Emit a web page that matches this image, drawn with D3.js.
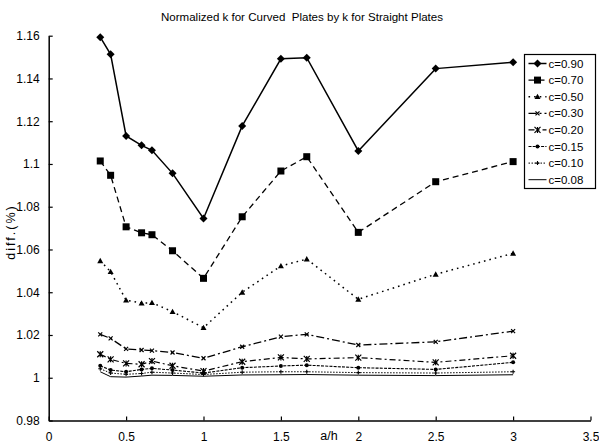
<!DOCTYPE html>
<html>
<head>
<meta charset="utf-8">
<script src="https://cdn.jsdelivr.net/npm/d3@7"></script>
<style>
  html, body { margin: 0; padding: 0; background: #fff; }
  svg { display: block; }
  text { font-family: "Liberation Sans Narrow", "Liberation Sans", Arial, sans-serif; fill: #000; }
</style>
</head>
<body>
<svg id="chart" width="599" height="445"></svg>
<script>
// a/h ratios at which every series was computed
const aH = [0.333, 0.4, 0.5, 0.6, 0.667, 0.8, 1, 1.25, 1.5, 1.667, 2, 2.5, 3];

// k(curved) / k(straight) for each curvature c
const c090 = [1.1593, 1.1513, 1.1131, 1.1087, 1.1064, 1.0956, 1.0745, 1.1178, 1.1492, 1.1497, 1.1061, 1.1446, 1.1476];
const c070 = [1.1014, 1.0947, 1.0706, 1.0678, 1.0669, 1.0594, 1.0465, 1.0753, 1.0967, 1.1034, 1.0680, 1.0917, 1.1011];
const c050 = [1.0547, 1.0496, 1.0363, 1.0349, 1.0351, 1.0309, 1.0234, 1.0400, 1.0523, 1.0555, 1.0367, 1.0484, 1.0582];
const c030 = [1.0203, 1.0184, 1.0135, 1.0130, 1.0127, 1.0118, 1.0091, 1.0145, 1.0192, 1.0203, 1.0153, 1.0168, 1.0218];
const c020 = [1.0110, 1.0086, 1.0067, 1.0063, 1.0078, 1.0056, 1.0031, 1.0075, 1.0095, 1.0088, 1.0094, 1.0072, 1.0103];
const c015 = [1.0056, 1.0036, 1.0028, 1.0039, 1.0044, 1.0036, 1.0022, 1.0047, 1.0055, 1.0059, 1.0047, 1.0039, 1.0072];
const c010 = [1.0042, 1.0022, 1.0016, 1.0020, 1.0026, 1.0022, 1.0015, 1.0026, 1.0028, 1.0028, 1.0024, 1.0022, 1.0028];
const c008 = [1.0028, 1.0005, 1.0003, 1.0008, 1.0012, 1.0011, 1.0007, 1.0013, 1.0014, 1.0015, 1.0012, 1.0010, 1.0014];

const seriesNames = ["c=0.90", "c=0.70", "c=0.50", "c=0.30", "c=0.20", "c=0.15", "c=0.10", "c=0.08"];
const seriesValues = [c090, c070, c050, c030, c020, c015, c010, c008];

const xTickValues = [0, 0.5, 1, 1.5, 2, 2.5, 3, 3.5];
const xTickLabels = ["0", "0.5", "1", "1.5", "2", "2.5", "3", "3.5"];
const yTickValues = [0.98, 1.0, 1.02, 1.04, 1.06, 1.08, 1.1, 1.12, 1.14, 1.16];
const yTickLabels = ["0.98", "1", "1.02", "1.04", "1.06", "1.08", "1.1", "1.12", "1.14", "1.16"];

const titleText = "Normalized k for Curved  Plates by k for Straight Plates";
const xTitle = "a/h";
const yTitle = "diff.(%)";

// line and marker styling per series
const styles = [
  { dash: null,        width: 1.5, marker: "diamond",  size: 8 },
  { dash: "6,4",       width: 1.3, marker: "square",   size: 7 },
  { dash: "1.6,4",     width: 1.5, marker: "triangle", size: 6 },
  { dash: "8,3,2,3",   width: 1.3, marker: "cross",    size: 4 },
  { dash: "6,3,2,3",   width: 1.2, marker: "asterisk", size: 6 },
  { dash: "3,1.2",     width: 1.1, marker: "circle",   size: 4 },
  { dash: "1.5,1.5",   width: 1.0, marker: "plus",     size: 4 },
  { dash: null,        width: 1.0, marker: "none",     size: 0 }
];

const svg = d3.select("#chart");
const plotLeft = 48.7, plotRight = 590.5, plotTop = 35.7, plotBottom = 420.5;

const x = d3.scaleLinear().domain([0, 3.5]).range([plotLeft, plotRight]);
const y = d3.scaleLinear().domain([0.98, 1.16]).range([plotBottom, plotTop]);

// title (keeps its double space)
svg.append("text")
  .attr("x", 302).attr("y", 21)
  .attr("text-anchor", "middle")
  .attr("font-size", 11.5)
  .style("white-space", "pre")
  .attr("textLength", 282).attr("lengthAdjust", "spacingAndGlyphs")
  .text(titleText);

// axes with inward ticks
const xAxis = d3.axisBottom(x)
  .tickValues(xTickValues)
  .tickFormat((d, i) => xTickLabels[i])
  .tickSizeInner(-4).tickSizeOuter(0).tickPadding(10);
const yAxis = d3.axisLeft(y)
  .tickValues(yTickValues)
  .tickFormat((d, i) => yTickLabels[i])
  .tickSizeInner(-4).tickSizeOuter(0).tickPadding(9);

const gx = svg.append("g").attr("transform", `translate(0,${plotBottom})`).call(xAxis);
const gy = svg.append("g").attr("transform", `translate(${plotLeft},0)`).call(yAxis);
[gx, gy].forEach(g => {
  g.select(".domain").attr("stroke", "#000").attr("stroke-width", 1.5);
  g.selectAll(".tick line").attr("stroke", "#000").attr("stroke-width", 1.2);
  g.selectAll(".tick text").attr("font-size", 12)
    .attr("font-family", "'Liberation Sans Narrow', 'Liberation Sans', Arial, sans-serif")
    .attr("fill", "#000");
});
gx.selectAll(".tick text").attr("dy", "0.9em");

// axis titles
svg.append("text")
  .attr("x", 329).attr("y", 440)
  .attr("text-anchor", "middle")
  .attr("font-size", 12.5)
  .text(xTitle);
svg.append("text")
  .attr("transform", "translate(15,232) rotate(-90)")
  .attr("text-anchor", "middle")
  .attr("font-size", 12.5)
  .attr("letter-spacing", 2)
  .text(yTitle);

// marker drawing
function drawMarker(g, type, size) {
  const s = size / 2;
  switch (type) {
    case "diamond":
      g.append("path").attr("d", `M0,${-s}L${s},0L0,${s}L${-s},0Z`).attr("fill", "#000");
      break;
    case "square":
      g.append("rect").attr("x", -s).attr("y", -s).attr("width", size).attr("height", size).attr("fill", "#000");
      break;
    case "triangle":
      g.append("path").attr("d", `M0,${-s}L${s},${s * 0.8}L${-s},${s * 0.8}Z`).attr("fill", "#000");
      break;
    case "cross":
      g.append("path").attr("d", `M${-s},${-s}L${s},${s}M${-s},${s}L${s},${-s}`).attr("stroke", "#000").attr("stroke-width", 1.2);
      break;
    case "asterisk":
      g.append("path").attr("d", `M${-s},${-s}L${s},${s}M${-s},${s}L${s},${-s}M0,${-s}L0,${s}`).attr("stroke", "#000").attr("stroke-width", 1.2);
      break;
    case "circle":
      g.append("circle").attr("r", s).attr("fill", "#000");
      break;
    case "plus":
      g.append("path").attr("d", `M${-s},0L${s},0M0,${-s}L0,${s}`).attr("stroke", "#000").attr("stroke-width", 1.1);
      break;
  }
}

const line = d3.line().x(d => x(d[0])).y(d => y(d[1]));

// draw from the bottom series upward so the heavier lines sit on top
for (let k = seriesValues.length - 1; k >= 0; k--) {
  const st = styles[k];
  const pts = aH.map((a, i) => [a, seriesValues[k][i]]);
  const g = svg.append("g").attr("class", "series");
  g.append("path")
    .datum(pts)
    .attr("d", line)
    .attr("fill", "none")
    .attr("stroke", "#000")
    .attr("stroke-width", st.width)
    .attr("stroke-dasharray", st.dash);
  g.selectAll("g.m").data(pts).join("g")
    .attr("class", "m")
    .attr("transform", d => `translate(${x(d[0])},${y(d[1])})`)
    .each(function () { drawMarker(d3.select(this), st.marker, st.size); });
}

// legend
const lgX = 524.5, lgY = 54.5, lgW = 71, lgH = 134, rowH = 16.6;
const lg = svg.append("g");
lg.append("rect").attr("x", lgX).attr("y", lgY).attr("width", lgW).attr("height", lgH)
  .attr("fill", "#fff").attr("stroke", "#000").attr("stroke-width", 1.2);
seriesNames.forEach((name, k) => {
  const st = styles[k];
  const cy = lgY + 9 + k * rowH;
  lg.append("line").attr("x1", lgX + 4).attr("x2", lgX + 22).attr("y1", cy).attr("y2", cy)
    .attr("stroke", "#000").attr("stroke-width", st.width).attr("stroke-dasharray", st.dash);
  const m = lg.append("g").attr("transform", `translate(${lgX + 13},${cy})`);
  drawMarker(m, st.marker, st.size);
  lg.append("text").attr("x", lgX + 24).attr("y", cy).attr("dy", "0.35em")
    .attr("font-size", 11.5).text(name);
});
</script>
</body>
</html>
